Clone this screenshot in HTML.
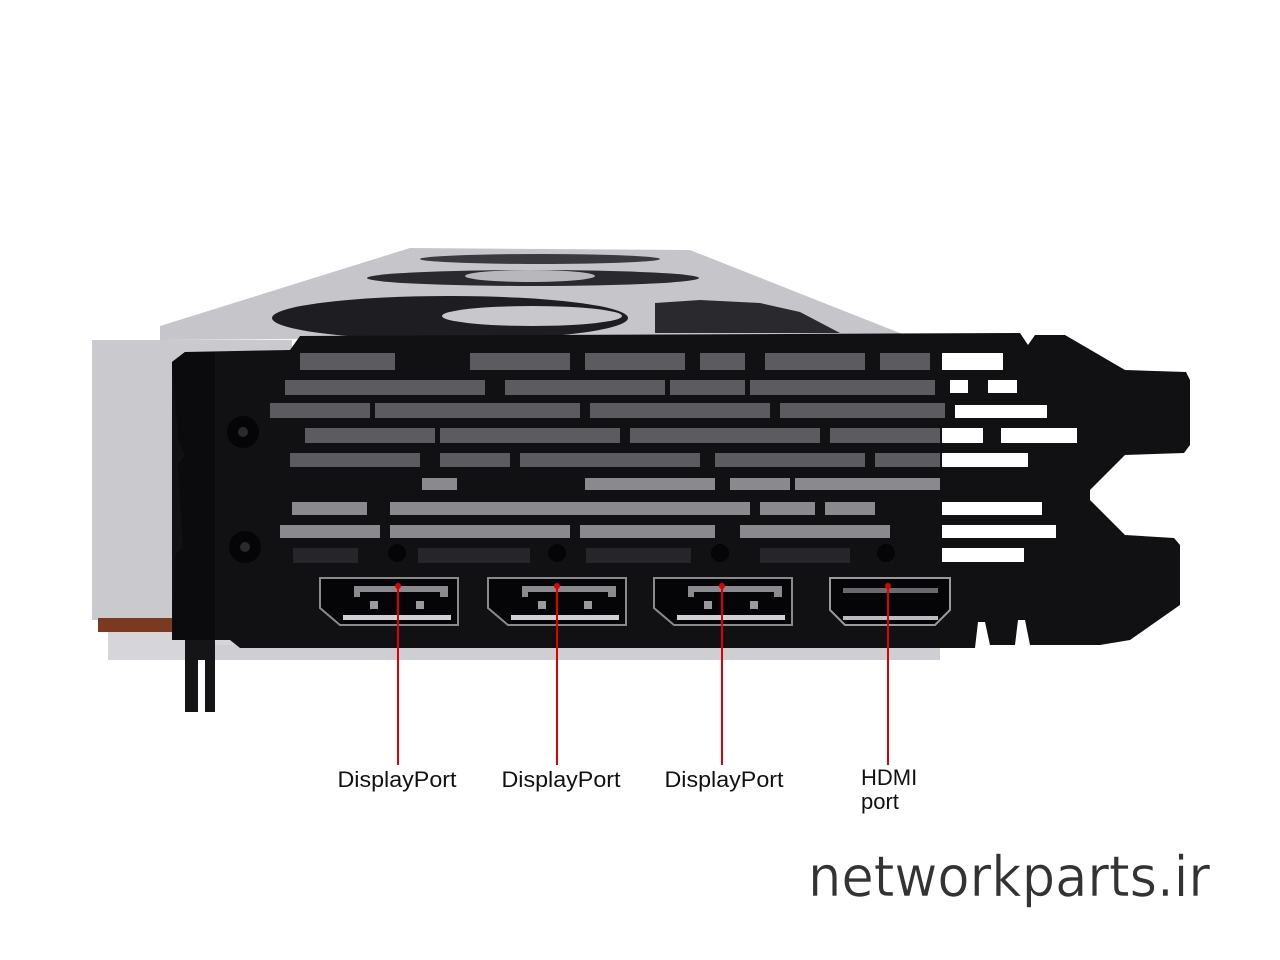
<!DOCTYPE html>
<html><head><meta charset="utf-8"><style>
html,body{margin:0;padding:0;background:#fff;}
svg{display:block}
</style></head><body>
<svg width="1280" height="960" viewBox="0 0 1280 960" xmlns="http://www.w3.org/2000/svg">
<rect width="1280" height="960" fill="#fff"/>
<!-- shroud top -->
<polygon points="410,248 690,250 905,335 160,340 160,326" fill="#c6c6ca"/>
<ellipse cx="540" cy="259" rx="120" ry="5" fill="#3a3a3e"/>
<ellipse cx="533" cy="278" rx="166" ry="8" fill="#2a2a2e"/>
<ellipse cx="530" cy="276" rx="65" ry="6" fill="#b8b8bc"/>
<ellipse cx="450" cy="318" rx="178" ry="22" fill="#1e1e22"/>
<ellipse cx="532" cy="316" rx="90" ry="10" fill="#c8c8cc"/>
<polygon points="655,303 700,300 760,303 800,312 840,333 655,333" fill="#2a2a2e"/>
<!-- left gray block -->
<rect x="92" y="340" width="200" height="280" fill="#c9c9ce"/>
<rect x="98" y="618" width="142" height="14" fill="#7a3a22"/>
<rect x="108" y="632" width="132" height="28" fill="#d6d6da"/>
<rect x="200" y="645" width="740" height="15" fill="#cfcfd3"/>
<!-- bracket -->
<path d="M172,362 L185,352 L290,350 L300,336 L1020,333 L1028,345 L1035,335 L1065,335 L1125,370 L1186,372 L1190,380 L1190,445 L1184,453 L1125,455 L1090,490 L1090,500 L1125,535 L1174,538 L1180,545 L1180,605 L1130,640 L1100,645 L1030,645 L1025,620 L1018,620 L1015,645 L990,645 L985,622 L978,622 L975,648 L240,648 L230,640 L172,640 Z" fill="#111114"/>
<path d="M172,362 L185,352 L215,352 L215,640 L172,640 L175,555 L183,548 L178,465 L185,455 L178,440 Z" fill="#0b0b0d"/>
<path d="M185,640 L215,640 L215,712 L205,712 L205,660 L198,660 L198,712 L185,712 Z" fill="#151518"/>
<circle cx="243" cy="432" r="16" fill="#050507"/><circle cx="243" cy="432" r="5" fill="#2a2a2e"/>
<circle cx="245" cy="547" r="16" fill="#050507"/><circle cx="245" cy="547" r="5" fill="#2a2a2e"/>
<!-- slots -->
<g fill="#5c5c60">
<rect x="300" y="353" width="95" height="17"/><rect x="470" y="353" width="100" height="17"/><rect x="585" y="353" width="100" height="17"/><rect x="700" y="353" width="45" height="17"/><rect x="765" y="353" width="100" height="17"/><rect x="880" y="353" width="50" height="17"/>
<rect x="285" y="380" width="200" height="15"/><rect x="505" y="380" width="160" height="15"/><rect x="670" y="380" width="75" height="15"/><rect x="750" y="380" width="185" height="15"/>
<rect x="270" y="403" width="100" height="15"/><rect x="375" y="403" width="205" height="15"/><rect x="590" y="403" width="180" height="15"/><rect x="780" y="403" width="165" height="15"/>
<rect x="305" y="428" width="130" height="15"/><rect x="440" y="428" width="180" height="15"/><rect x="630" y="428" width="190" height="15"/><rect x="830" y="428" width="110" height="15"/>
<rect x="290" y="453" width="130" height="14"/><rect x="440" y="453" width="70" height="14"/><rect x="520" y="453" width="180" height="14"/><rect x="715" y="453" width="150" height="14"/><rect x="875" y="453" width="65" height="14"/>
</g>
<g fill="#8a8a8e">
<rect x="422" y="478" width="35" height="12"/><rect x="585" y="478" width="130" height="12"/><rect x="730" y="478" width="60" height="12"/><rect x="795" y="478" width="145" height="12"/>
<rect x="292" y="502" width="75" height="13"/><rect x="390" y="502" width="360" height="13"/><rect x="760" y="502" width="55" height="13"/><rect x="825" y="502" width="50" height="13"/>
<rect x="280" y="525" width="100" height="13"/><rect x="390" y="525" width="180" height="13"/><rect x="580" y="525" width="135" height="13"/><rect x="740" y="525" width="150" height="13"/>
</g>
<g fill="#26262a">
<rect x="293" y="548" width="65" height="15"/><rect x="418" y="548" width="112" height="15"/><rect x="586" y="548" width="105" height="15"/><rect x="760" y="548" width="90" height="15"/>
</g>
<g fill="#fff">
<rect x="942" y="353" width="61" height="17"/>
<rect x="950" y="380" width="18" height="13"/><rect x="988" y="380" width="29" height="13"/>
<rect x="955" y="405" width="92" height="13"/>
<rect x="942" y="428" width="41" height="15"/><rect x="1001" y="428" width="76" height="15"/>
<rect x="942" y="453" width="86" height="14"/>
<rect x="942" y="502" width="100" height="13"/>
<rect x="942" y="525" width="114" height="13"/>
<rect x="942" y="548" width="82" height="14"/>
</g>
<g fill="#050507">
<circle cx="397" cy="553" r="9"/><circle cx="557" cy="553" r="9"/><circle cx="720" cy="553" r="9"/><circle cx="886" cy="553" r="9"/>
</g>
<!-- DP ports -->
<g id="dp">
<path d="M320,578 L458,578 L458,625 L340,625 L320,608 Z" fill="#050507" stroke="#8a8a8e" stroke-width="2"/>
<path d="M354,586 L448,586 L448,597 L440,597 L440,592 L360,592 L360,597 L354,597 Z" fill="#8a8a8e"/>
<rect x="370" y="601" width="8" height="8" fill="#9a9a9e"/><rect x="416" y="601" width="8" height="8" fill="#9a9a9e"/>
<rect x="343" y="615" width="108" height="5" fill="#d0d0d4"/>
</g>
<use href="#dp" x="168"/>
<use href="#dp" x="334"/>
<!-- HDMI -->
<path d="M830,578 L950,578 L950,610 L935,625 L845,625 L830,610 Z" fill="#050507" stroke="#9a9a9e" stroke-width="2"/>
<rect x="843" y="588" width="95" height="5" fill="#6a6a6e"/>
<rect x="843" y="616" width="95" height="4" fill="#bcbcc0"/>
<!-- red leaders -->
<g stroke="#e00000" stroke-width="2">
<line x1="398" y1="586" x2="398" y2="765"/><line x1="557" y1="586" x2="557" y2="765"/><line x1="722" y1="586" x2="722" y2="765"/><line x1="888" y1="586" x2="888" y2="765"/>
</g>
<g fill="#e00000"><circle cx="398" cy="586" r="3"/><circle cx="557" cy="586" r="3"/><circle cx="722" cy="586" r="3"/><circle cx="888" cy="586" r="3"/></g>
<g font-family="Liberation Sans, sans-serif" font-size="22" fill="#111">
<text x="397" y="787" text-anchor="middle" textLength="119" lengthAdjust="spacingAndGlyphs">DisplayPort</text>
<text x="561" y="787" text-anchor="middle" textLength="119" lengthAdjust="spacingAndGlyphs">DisplayPort</text>
<text x="724" y="787" text-anchor="middle" textLength="119" lengthAdjust="spacingAndGlyphs">DisplayPort</text>
<text x="861" y="785">HDMI</text>
<text x="861" y="809">port</text>
</g>
<text x="808" y="896" font-family="DejaVu Sans, sans-serif" font-weight="normal" font-size="56" fill="#333" stroke="#fff" stroke-width="0.6" textLength="402" lengthAdjust="spacingAndGlyphs">networkparts.ir</text>
</svg>
</body></html>
